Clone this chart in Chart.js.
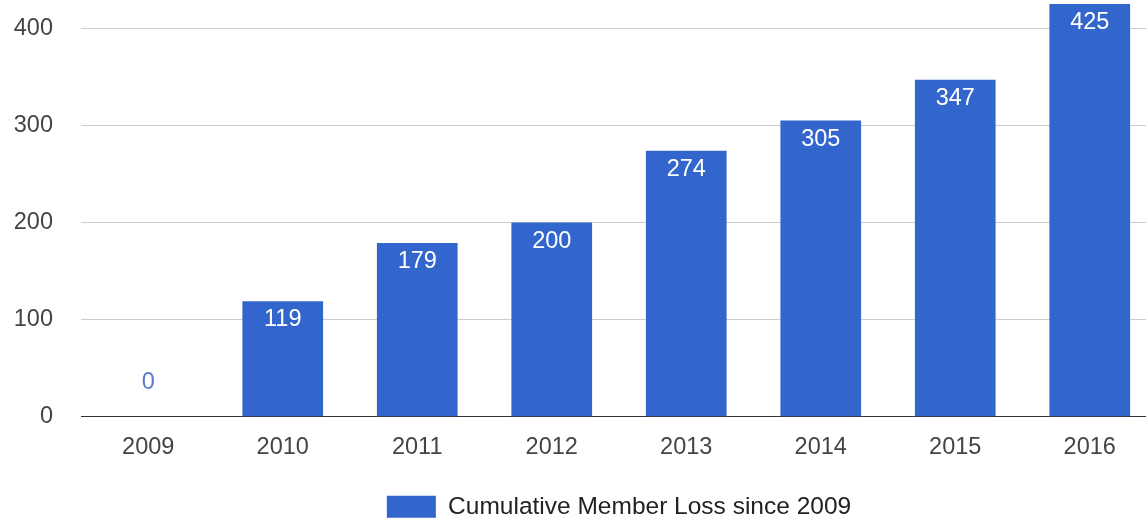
<!DOCTYPE html>
<html>
<head>
<meta charset="utf-8">
<script src="https://cdn.jsdelivr.net/npm/chart.js@4"></script>
<style>
  html, body { margin: 0; padding: 0; background: #fff; overflow: hidden; }
  #wrap { width: 1146px; height: 519px; overflow: hidden; position: relative; }
  canvas { display: block; }
</style>
</head>
<body>
<div id="wrap"><canvas id="c" width="1160" height="529"></canvas></div>
<script>
const categories = ['2009', '2010', '2011', '2012', '2013', '2014', '2015', '2016'];
const memberLoss = [0, 119, 179, 200, 274, 305, 347, 425];
const seriesLabel = 'Cumulative Member Loss since 2009';
const yTicks = [0, 100, 200, 300, 400];

const FONT = '"Liberation Sans", Arial, sans-serif';
const BAR = '#3366cc';
const AXIS_FS = 23.5;

const valueLabels = {
  id: 'valueLabels',
  afterDatasetsDraw(chart) {
    const ctx = chart.ctx;
    const meta = chart.getDatasetMeta(0);
    ctx.save();
    ctx.font = AXIS_FS + 'px ' + FONT;
    ctx.textAlign = 'center';
    ctx.textBaseline = 'alphabetic';
    meta.data.forEach((bar, i) => {
      const v = chart.data.datasets[0].data[i];
      const txt = String(v);
      if (bar.base - bar.y > 40) {
        ctx.fillStyle = '#ffffff';
        ctx.fillText(txt, bar.x, bar.y + 25);
      } else {
        ctx.fillStyle = '#5a7bcf';
        ctx.fillText(txt, bar.x, bar.base - 28);
      }
    });
    ctx.restore();
  }
};

// center the legend under the plot area, as in the original
const legendUnderPlot = {
  id: 'legendUnderPlot',
  afterLayout(chart) {
    const lg = chart.legend;
    if (!lg) return;
    lg.left = chart.chartArea.left;
    lg.right = chart.chartArea.right;
    lg.width = lg.right - lg.left;
  }
};

new Chart(document.getElementById('c'), {
  type: 'bar',
  data: {
    labels: categories,
    datasets: [{
      label: seriesLabel,
      data: memberLoss,
      backgroundColor: BAR,
      borderWidth: 0,
      categoryPercentage: 1.0,
      barPercentage: 0.6
    }]
  },
  options: {
    responsive: false,
    animation: false,
    devicePixelRatio: 1,
    layout: { padding: { top: 4, left: 0, right: 3, bottom: 0 } },
    plugins: {
      tooltip: { enabled: false },
      legend: {
        position: 'bottom',
        labels: {
          boxWidth: 49,
          boxHeight: 22,
          padding: 5,
          color: '#222',
          font: { family: FONT, size: 24.5 }
        }
      }
    },
    scales: {
      x: {
        grid: { display: false, drawTicks: false },
        border: { display: true, color: '#333', width: 1 },
        ticks: { color: '#444', padding: 17, font: { family: FONT, size: AXIS_FS } },
        afterFit(scale) { scale.height = 72.75; }
      },
      y: {
        min: 0,
        max: 425,
        afterBuildTicks(axis) { axis.ticks = yTicks.map(v => ({ value: v })); },
        grid: {
          drawTicks: false,
          color: (c) => (c.tick && c.tick.value === 0) ? '#333' : '#cccccc',
          lineWidth: 1
        },
        border: { display: false },
        ticks: { color: '#444', padding: 28, font: { family: FONT, size: AXIS_FS } },
        afterFit(scale) {
          scale.width = 81;
          scale.paddingTop = 0;
          scale.paddingBottom = 0;
        }
      }
    }
  },
  plugins: [valueLabels, legendUnderPlot]
});
</script>
</body>
</html>
